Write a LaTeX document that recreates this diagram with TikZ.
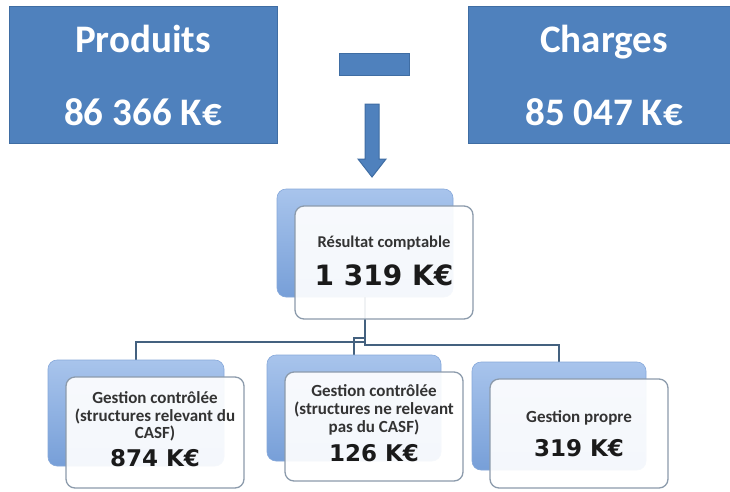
\documentclass[tikz,border=0pt]{standalone}
\usepackage{fontspec}
\setmainfont{Carlito}
\newfontfamily\numfont{DejaVu Sans}
\definecolor{topblue}{HTML}{4F81BD}
\definecolor{topedge}{HTML}{3F6DA3}
\definecolor{backtop}{HTML}{A8C4EC}
\definecolor{backbot}{HTML}{779FD8}
\definecolor{backedge}{HTML}{86A8DA}
\definecolor{frontedge}{HTML}{8C9BAC}
\definecolor{linkc}{HTML}{44617F}
\definecolor{labelc}{HTML}{333333}
\definecolor{numc}{HTML}{1A1A1A}
\begin{document}
\begin{tikzpicture}[x=1pt,y=-1pt,
  topbox/.style={draw=topedge, fill=topblue, line width=1pt, inner sep=0pt},
  backbox/.style={rounded corners=9pt, top color=backtop, bottom color=backbot, draw=backedge, line width=0.6pt, inner sep=0pt},
  frontbox/.style={rounded corners=9pt, fill=white, fill opacity=0.92, draw=frontedge, line width=1.3pt, inner sep=0pt},
  link/.style={draw=linkc, line width=1.6pt},
  toptext/.style={text=white, font=\fontsize{39}{41}\selectfont\bfseries, anchor=base, inner sep=0pt},
  lbl/.style={text=labelc, font=\fontsize{17}{18}\selectfont\bfseries, anchor=base, inner sep=0pt},
  reslbl/.style={text=labelc, font=\fontsize{16.5}{18}\selectfont\bfseries, anchor=base, inner sep=0pt},
  bignum/.style={text=numc, font=\numfont\fontsize{28}{30}\selectfont\bfseries, anchor=base, inner sep=0pt},
  num/.style={text=numc, font=\numfont\fontsize{23}{25}\selectfont\bfseries, anchor=base, inner sep=0pt}]
\useasboundingbox (0,0) rectangle (730,491);
\fill[white] (0,0) rectangle (730,491);

% top boxes
\node[topbox, minimum width=268pt, minimum height=137pt] (P) at (143,74.5) {};
\node[topbox, minimum width=270pt, minimum height=137pt] (C) at (603,74.5) {};
\node[toptext] (pt1) at (143,52) {Produits};
\node[toptext] (pt2) at (143,125) {86 366 K€};
\node[toptext] (ct1) at (604,52) {Charges};
\node[toptext] (ct2) at (604,125) {85 047 K€};

% minus sign and arrow
\node[topbox, minimum width=70pt, minimum height=22pt] (minus) at (374,64) {};
\draw[topbox] (365,104) -- (379,104) -- (379,159) -- (386,159) -- (372,177)
  -- (358,159) -- (365,159) -- cycle;

% result boxes
\node[backbox, minimum width=176pt, minimum height=108pt] (Rb) at (365,243) {};

% connectors
\draw[link] (Rb.south) -- (Rb.south |- 0,342) coordinate (jl) -| (136,360) coordinate (Lt);
\draw[link] (Rb.south) -- (Rb.south |- 0,345) coordinate (jr) -| (559,362) coordinate (Rt);
\draw[link] (Rb.south) -- (Rb.south |- 0,338) coordinate (jm) -| (354,355) coordinate (Mt);

\node[frontbox, minimum width=178pt, minimum height=113pt] (Rf) at (384,262.5) {};

% child boxes
\node[backbox, minimum width=176pt, minimum height=106pt] (Lb) at (136,413) {};
\node[backbox, minimum width=174pt, minimum height=106pt] (Mb) at (354,408) {};
\node[backbox, minimum width=174pt, minimum height=108pt] (Bb) at (559,416) {};
\node[frontbox, minimum width=178pt, minimum height=111pt] (Lf) at (155,432.5) {};
\node[frontbox, minimum width=178pt, minimum height=109pt] (Mf) at (374,426.5) {};
\node[frontbox, minimum width=178pt, minimum height=109pt] (Bf) at (579,433.5) {};

% texts
\node[reslbl] (r1) at (384,247) {Résultat comptable};
\node[bignum] (r2) at (384,285) {1 319 K€};

\node[lbl] (l1) at (155,403.5) {Gestion contrôlée};
\node[lbl] (l2) at (155,421.5) {(structures relevant du};
\node[lbl] (l3) at (155,438.5) {CASF)};
\node[num] (l4) at (155,466.5) {874 K€};

\node[lbl] (m1) at (374,396) {Gestion contrôlée};
\node[lbl] (m2) at (374,414) {(structures ne relevant};
\node[lbl] (m3) at (374,432) {pas du CASF)};
\node[num] (m4) at (374,461) {126 K€};

\node[lbl] (b1) at (579,422) {Gestion propre};
\node[num] (b2) at (579,456) {319 K€};
\end{tikzpicture}
\end{document}
